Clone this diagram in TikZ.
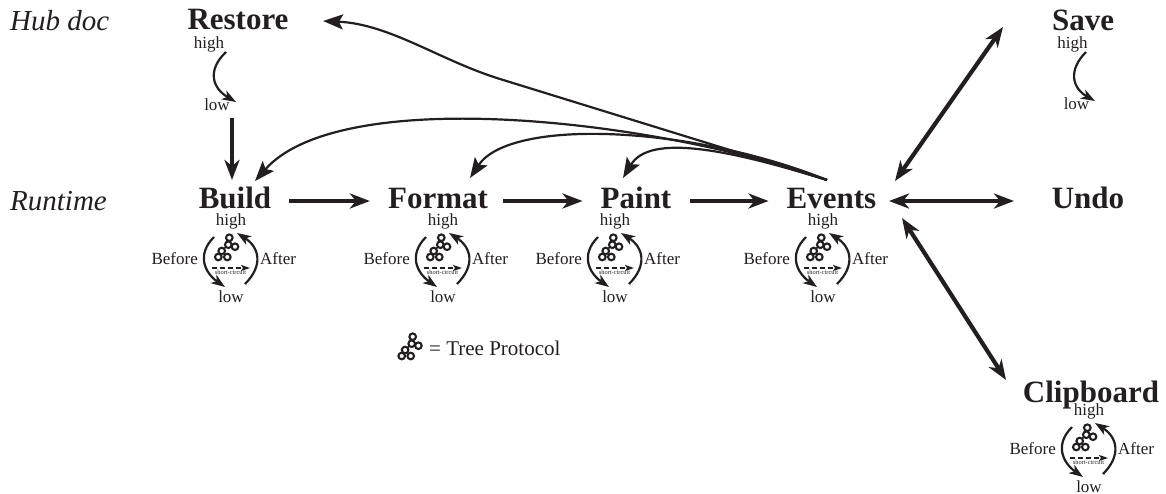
\documentclass[tikz,border=0pt]{standalone}
\usepackage{fontspec}
\setmainfont{Liberation Serif}
\usetikzlibrary{arrows.meta,calc}
\tikzset{
  phase/.style={font=\fontsize{31}{31}\selectfont\bfseries,text height=20pt,text depth=6pt,inner xsep=18pt,inner ysep=0pt,text=ink},
  rowlabel/.style={font=\fontsize{29}{29}\selectfont\itshape,text=ink,anchor=west,inner sep=0pt},
  small/.style={font=\fontsize{17}{17}\selectfont,text=ink,inner sep=0pt},
  tiny/.style={font=\fontsize{6.4}{6.4}\selectfont,text=ink,inner sep=0pt},
  flow/.style={draw=ink,line width=4.2pt,-{Stealth[length=20pt,width=15pt,inset=6pt]}},
  both/.style={draw=ink,line width=4.2pt,{Stealth[length=20pt,width=15pt,inset=6pt]}-{Stealth[length=20pt,width=15pt,inset=6pt]}},
  back/.style={draw=ink,line width=2.2pt,-{Stealth[length=20pt,width=15pt,inset=4pt]}},
  walk/.style={draw=ink,line width=2.2pt,-{Stealth[length=14pt,width=10pt,inset=4pt]}},
  shortcut/.style={draw=ink,line width=1.6pt,dash pattern=on 5pt off 3pt,-{Stealth[length=9pt,width=6pt,inset=2pt]}},
  treenode/.style={draw=ink,line width=2.1pt,circle,minimum size=6.6pt,inner sep=0pt,fill=white},
}
\definecolor{ink}{HTML}{231F20}
% tree mark, the top circle sits at #1
\def\TREE(#1)#2{%
  \begin{scope}[shift={(#1)}]
    \draw[ink,line width=1.6pt] (0,0) -- (-1,7) -- (-7.6,13.3);
    \node[treenode] (#2 top) at (0,0) {};
    \node[treenode] (#2 right) at (5.7,9) {};
    \node[treenode] (#2 mid) at (-1,7) {};
    \node[treenode] (#2 low) at (-7.6,13.3) {};
    \node[treenode] (#2 foot) at (-2,19.3) {};
    \node[treenode] (#2 left) at (-11,19.3) {};
  \end{scope}
}
% walk below a phase, #1 is the high label
\def\CYCLE(#1)#2{%
  \begin{scope}[shift={(#1)}]
    \node[small] (#2 high) at (0,0) {high};
    \node[small] (#2 low) at (0,76) {low};
    \node[small,anchor=east] (#2 before) at (-33,38) {Before};
    \node[small,anchor=west] (#2 after) at (29,38) {After};
    \TREE(-1.7,16.7){#2 tree}
    \coordinate (#2 a) at (-17,16);
    \coordinate (#2 b) at (-6,66);
    \coordinate (#2 c) at (14,63);
    \coordinate (#2 d) at (6,12);
    \draw[walk] (#2 a) .. controls (-35,34) and (-26,52) .. (#2 b);
    \draw[walk] (#2 c) .. controls (33,44) and (28,26) .. (#2 d);
    \coordinate (#2 e) at (-19.5,47);
    \coordinate (#2 f) at (19,47);
    \draw[shortcut] (#2 e) -- (#2 f);
    \node[tiny] (#2 short) at (-0.5,51.5) {short-circuit};
  \end{scope}
}
\begin{document}
\begin{tikzpicture}[x=1pt,y=-1pt]
  \useasboundingbox (0,0) rectangle (1166,493);
  % Row names
  \node[rowlabel] (hub) at (10,21) {Hub doc};
  \node[rowlabel] (runtime) at (10,201) {Runtime};
  % Place the phases
  \node[phase] (restore) at (238,22) {Restore};
  \node[phase] (save) at (1083,23) {Save};
  \node[phase] (build) at (235,201) {Build};
  \node[phase] (format) at (438,201) {Format};
  \node[phase] (paint) at (636,201) {Paint};
  \node[phase] (events) at (831.5,201) {Events};
  \node[phase] (undo) at (1088,201) {Undo};
  \node[phase] (clipboard) at (1091,395) {Clipboard};
  % Walks under the phases
  \CYCLE(231,221){build c}
  \CYCLE(443,221){format c}
  \CYCLE(615,221){paint c}
  \CYCLE(823,221){events c}
  \CYCLE(1089,411){clip c}
  % Walks without a tree
  \node[small] (restore high) at (209,44) {high};
  \node[small] (restore low) at (217,105) {low};
  \node[small] (save high) at (1072.5,44) {high};
  \node[small] (save low) at (1076.5,104) {low};
  \coordinate (restore a) at (226,52);
  \coordinate (restore b) at (236,102);
  \coordinate (save a) at (1086,52);
  \coordinate (save b) at (1095,101);
  \draw[walk] (restore a) .. controls (207,70) and (212,88) .. (restore b);
  \draw[walk] (save a) .. controls (1068,70) and (1072,88) .. (save b);
  % Forward arrows
  \coordinate (restore out) at (232,118);
  \coordinate (build in) at (232,180);
  \draw[flow] (restore out) -- (build in);
  \draw[flow] (build) -- (format);
  \draw[flow,shorten <=-3pt] (format) -- (paint);
  \draw[flow] (paint) -- (events);
  % Arrows around the events
  \coordinate (events ne) at (895,181);
  \coordinate (save in) at (1003,27);
  \coordinate (events right) at (889,201);
  \coordinate (undo in) at (1014,201);
  \coordinate (events se) at (902,218);
  \coordinate (clip in) at (1006,380);
  \draw[both] (events ne) -- (save in);
  \draw[both] (events right) -- (undo in);
  \draw[both] (events se) -- (clip in);
  % Arrows going back
  \coordinate (events top) at (827,180);
  \coordinate (restore via) at (500,79);
  \coordinate (restore in) at (323,21);
  \coordinate (build top) at (255,181);
  \coordinate (format top) at (470,178);
  \coordinate (paint top) at (623,178);
  \draw[back] (events top) -- (restore via) .. controls (440,60.5) and (390,24) .. (restore in);
  \draw[back] (events top) .. controls (650,118) and (340,85) .. (build top);
  \draw[back] (events top) .. controls (690,125) and (510,118) .. (format top);
  \draw[back] (events top) .. controls (730,150) and (650,133) .. (paint top);
  % Legend
  \TREE(412.7,336.7){key}
  \node[font=\fontsize{21}{21}\selectfont,text=ink,anchor=base west,inner sep=0pt] (key text) at (429,355) {= Tree Protocol};
\end{tikzpicture}
\end{document}
